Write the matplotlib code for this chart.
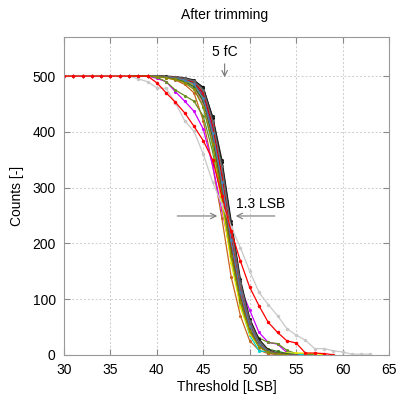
import numpy as np
import matplotlib
matplotlib.use("Agg")
import matplotlib.pyplot as plt

plt.rcParams["font.family"] = ["Liberation Sans", "DejaVu Sans"]

# threshold scan starts at 30 LSB, one point per LSB
thr_start = 30

# per-channel counts (threshold 30, 31, ...)
ch_black = [500, 500, 500, 500, 500, 500, 500, 500, 500, 500,
            500, 499, 498, 496, 492, 480, 425, 345, 235, 130, 62, 25, 8, 2, 0, 0]
ch_dgray = [500, 500, 500, 500, 500, 500, 500, 500, 500, 500,
            500, 499, 497, 494, 488, 470, 410, 320, 205, 110, 50, 18, 6, 1, 0, 0]
ch_brown = [500, 500, 500, 500, 500, 500, 500, 500, 500, 500,
            499, 497, 493, 485, 470, 420, 340, 245, 140, 70, 25, 8, 2, 0, 0]
ch_red2 = [500, 500, 500, 500, 500, 500, 500, 500, 500, 500,
           499, 498, 496, 493, 485, 455, 385, 290, 180, 95, 42, 15, 4, 1, 0, 0]
ch_magenta = [500, 500, 500, 500, 500, 500, 500, 500, 500, 500,
              496, 490, 472, 455, 437, 405, 340, 260, 180, 120, 80, 40, 22, 19, 4, 0, 0]
ch_olive = [500, 500, 500, 500, 500, 500, 500, 500, 500, 500,
            498, 490, 475, 465, 455, 428, 365, 275, 180, 105, 55, 30, 22, 20, 8, 2, 1, 0]
ch_cyan = [500, 500, 500, 500, 500, 500, 500, 500, 500, 500,
           499, 498, 495, 490, 478, 445, 375, 280, 175, 90, 35, 7, 5, 5, 3, 1, 0]
ch_yellow = [500, 500, 500, 500, 500, 500, 500, 500, 500, 500,
             500, 499, 497, 492, 482, 450, 380, 270, 165, 85, 38, 14, 5, 3, 3, 3, 3, 2, 0]
ch_blue = [500, 500, 500, 500, 500, 500, 500, 500, 500, 500,
           500, 499, 497, 494, 486, 462, 400, 305, 195, 100, 45, 15, 4, 1, 0]
ch_teal = [500, 500, 500, 500, 500, 500, 500, 500, 500, 500,
           500, 499, 498, 495, 489, 468, 408, 318, 210, 118, 55, 20, 6, 1, 0, 0]
ch_pink = [500, 500, 500, 500, 500, 500, 500, 500, 500, 500,
           500, 498, 496, 491, 480, 450, 385, 300, 200, 115, 55, 22, 7, 2, 0, 0]
ch_lgreen = [500, 500, 500, 500, 500, 500, 500, 500, 500, 500,
             500, 499, 496, 492, 484, 458, 395, 300, 190, 100, 45, 16, 5, 1, 0]
ch_gray = [500, 500, 500, 500, 500, 500, 500, 500, 500, 500,
           500, 499, 498, 496, 490, 472, 415, 330, 220, 125, 58, 24, 8, 2, 0, 0]
ch_orange = [500, 500, 500, 500, 500, 500, 500, 500, 500, 500,
             500, 499, 497, 493, 485, 462, 402, 312, 200, 105, 48, 17, 5, 1, 0]
ch_purple = [500, 500, 500, 500, 500, 500, 500, 500, 500, 500,
             500, 499, 498, 495, 488, 466, 405, 308, 198, 108, 50, 19, 6, 2, 0]
ch_dgreen = [500, 500, 500, 500, 500, 500, 500, 500, 500, 500,
             500, 498, 495, 490, 481, 455, 390, 295, 185, 98, 44, 18, 10, 6, 2, 0]
ch_sienna = [500, 500, 500, 500, 500, 500, 500, 500, 500, 500,
             500, 499, 497, 494, 487, 463, 398, 303, 192, 104, 47, 17, 5, 1, 0]
ch_black2 = [500, 500, 500, 500, 500, 500, 500, 500, 500, 500,
             500, 500, 499, 497, 493, 478, 428, 350, 240, 135, 65, 28, 9, 2, 0, 0]
ch_red3 = [500, 500, 500, 500, 500, 500, 500, 500, 500, 500,
           500, 499, 498, 495, 489, 470, 412, 322, 212, 115, 54, 21, 7, 2, 0, 0]
ch_steel = [500, 500, 500, 500, 500, 500, 500, 500, 500, 500,
            500, 499, 497, 493, 486, 460, 398, 310, 205, 112, 52, 19, 6, 1, 0]
ch_dgray2 = [500, 500, 500, 500, 500, 500, 500, 500, 500, 500,
             500, 499, 498, 496, 491, 475, 420, 338, 228, 128, 60, 23, 7, 2, 0, 0]
ch_olive2 = [500, 500, 500, 500, 500, 500, 500, 500, 500, 500,
             499, 497, 494, 488, 476, 445, 378, 285, 178, 95, 42, 14, 4, 1, 0]
ch_silver = [500, 500, 500, 500, 500, 500, 500, 500, 495, 490,
             479, 478, 452, 420, 401, 360, 310, 270, 230, 192, 150, 112, 90, 70,
             47, 35, 26, 11, 11, 7, 5, 1, 1, 1]
ch_red = [500, 500, 500, 500, 500, 500, 500, 500, 500, 500,
          488, 470, 453, 434, 410, 384, 350, 285, 222, 168, 121, 88, 58, 40,
          25, 21, 3, 3, 2, 0]

bundle = [ch_black, ch_dgray, ch_brown, ch_red2, ch_magenta, ch_olive, ch_cyan,
          ch_yellow, ch_blue, ch_teal, ch_pink, ch_lgreen, ch_gray, ch_orange,
          ch_purple, ch_dgreen, ch_sienna, ch_black2, ch_red3, ch_steel,
          ch_dgray2, ch_olive2]
bundle_colors = ["black", "#505050", "#c8641e", "#ff2020", "#cc00ff", "#6b8e23",
                 "#00d0d0", "#e8e800", "#2040c0", "#008b8b", "#ff69b4", "#66cc33",
                 "#909090", "#ff8c00", "#8a2be2", "#3c6e1e", "#8b4513", "#202020",
                 "#e00000", "#4682b4", "#666666", "#8c8c00"]

fig = plt.figure(figsize=(3.99, 3.97), dpi=100)
ax = fig.add_axes([0.1604, 0.1065, 0.8145, 0.800])

for counts, col in zip(bundle, bundle_colors):
    x = np.arange(thr_start, thr_start + len(counts))
    ax.plot(x, counts, color=col, lw=0.9, marker=".", ms=2.5)

x = np.arange(thr_start, thr_start + len(ch_silver))
ax.plot(x, ch_silver, color="#c8c8c8", lw=0.9, marker=".", ms=3)
x = np.arange(thr_start, thr_start + len(ch_red))
ax.plot(x, ch_red, color="#ff0000", lw=0.9, marker=".", ms=3)

ax.set_xlim(30, 65)
ax.set_ylim(0, 570)
ax.set_xticks(np.arange(30, 66, 5))
ax.set_yticks(np.arange(0, 501, 100))
ax.grid(True, color="#cccccc", lw=0.7, dashes=(2, 2))
ax.tick_params(direction="in", length=4, color="#888888", labelsize=10, pad=6,
               top=True, right=True)
for s in ax.spines.values():
    s.set_color("#999999")

# annotations
ax.text(47.3, 543, "5 fC", ha="center", va="center", fontsize=10)
ax.annotate("", xy=(47.3, 493), xytext=(47.3, 527),
            arrowprops=dict(arrowstyle="->", color="#777777", lw=0.8))
ax.annotate("", xy=(46.8, 249), xytext=(41.9, 249),
            arrowprops=dict(arrowstyle="->", color="#777777", lw=0.8))
ax.annotate("", xy=(48.2, 249), xytext=(53.0, 249),
            arrowprops=dict(arrowstyle="->", color="#777777", lw=0.8))
ax.text(48.5, 270, "1.3 LSB", ha="left", va="center", fontsize=10)

ax.set_xlabel("Threshold [LSB]", fontsize=10, labelpad=2)
ax.set_ylabel("Counts [-]", fontsize=10, labelpad=6)
fig.text(0.564, 0.962, "After trimming", ha="center", va="center", fontsize=10)

fig.savefig("out.png", dpi=100)
